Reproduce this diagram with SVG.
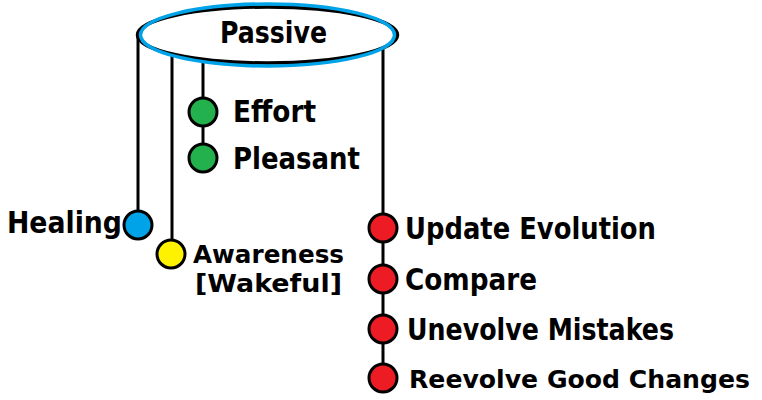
<svg xmlns="http://www.w3.org/2000/svg" width="762" height="400" viewBox="0 0 762 400">
<style>
.t{font-family:"DejaVu Sans","Liberation Sans",sans-serif;font-weight:bold;font-size:30px;fill:#000}
.s{font-size:25px}
.c{stroke:#000;stroke-width:3}
.l{stroke:#000;stroke-width:3;fill:none}
</style>
<rect width="762" height="400" fill="#fff"/>
<g id="connectors">
<line class="l" x1="138" y1="35" x2="138" y2="211"/>
<line class="l" x1="172" y1="35" x2="172" y2="240"/>
<line class="l" x1="203" y1="35" x2="203" y2="158"/>
<line class="l" x1="383" y1="35" x2="383" y2="377"/>
</g>
<g id="passive">
<ellipse cx="267.5" cy="35" rx="130" ry="28" fill="#fff" stroke="#000" stroke-width="3.5"/>
<ellipse cx="267.5" cy="35" rx="127" ry="31" fill="none" stroke="#00a2e8" stroke-width="3.5"/>
<text class="t" x="220" y="43" textLength="107" lengthAdjust="spacingAndGlyphs">Passive</text>
</g>
<g id="effort">
<circle class="c" cx="203" cy="112" r="14" fill="#22b14c"/>
<text class="t" x="233" y="122" textLength="83" lengthAdjust="spacingAndGlyphs">Effort</text>
</g>
<g id="pleasant">
<circle class="c" cx="203" cy="158" r="14" fill="#22b14c"/>
<text class="t" x="233" y="169" textLength="127" lengthAdjust="spacingAndGlyphs">Pleasant</text>
</g>
<g id="healing">
<circle class="c" cx="138" cy="225" r="14" fill="#00a2e8"/>
<text class="t" x="7" y="233" textLength="115" lengthAdjust="spacingAndGlyphs">Healing</text>
</g>
<g id="awareness">
<circle class="c" cx="171" cy="254" r="14" fill="#fff200"/>
<text class="t s" x="193" y="263" textLength="151" lengthAdjust="spacingAndGlyphs">Awareness</text>
<text class="t s" x="195" y="292" textLength="147" lengthAdjust="spacingAndGlyphs">[Wakeful]</text>
</g>
<g id="update">
<circle class="c" cx="383" cy="228" r="14" fill="#ed1c24"/>
<text class="t" x="405" y="239" textLength="251" lengthAdjust="spacingAndGlyphs">Update Evolution</text>
</g>
<g id="compare">
<circle class="c" cx="383" cy="279" r="14" fill="#ed1c24"/>
<text class="t" x="405" y="290" textLength="132" lengthAdjust="spacingAndGlyphs">Compare</text>
</g>
<g id="unevolve">
<circle class="c" cx="383" cy="329" r="14" fill="#ed1c24"/>
<text class="t" x="407" y="340" textLength="267" lengthAdjust="spacingAndGlyphs">Unevolve Mistakes</text>
</g>
<g id="reevolve">
<circle class="c" cx="383" cy="378" r="14" fill="#ed1c24"/>
<text class="t" x="409" y="388" textLength="341" lengthAdjust="spacingAndGlyphs" style="font-size:25px">Reevolve Good Changes</text>
</g>
</svg>
